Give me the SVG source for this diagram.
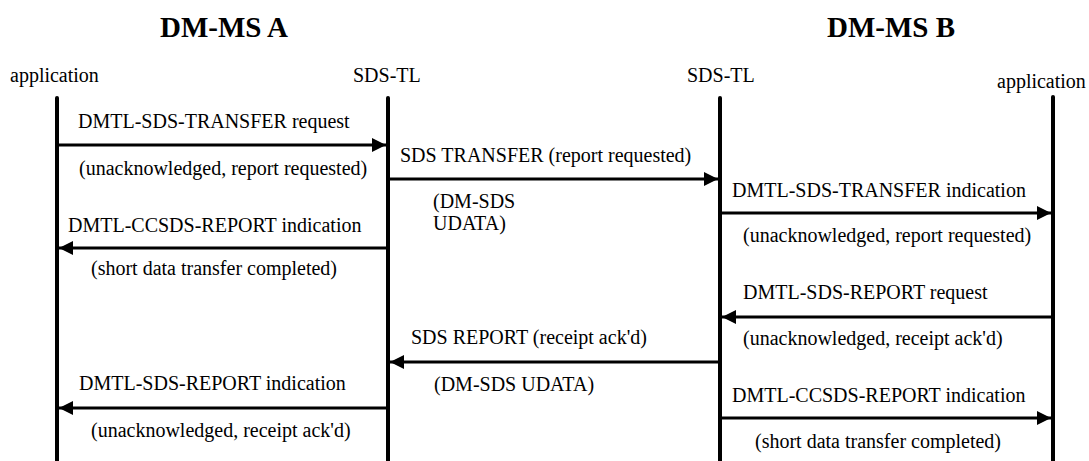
<svg xmlns="http://www.w3.org/2000/svg" width="1089" height="461" viewBox="0 0 1089 461">
<style>
text{font-family:"Liberation Serif","Times New Roman",serif;font-size:20px;fill:#000}
.title{font-size:29px;font-weight:bold}
.life{stroke:#000;stroke-width:4;stroke-linecap:round}
.msg{stroke:#000;stroke-width:3;fill:none}
</style>
<defs>
<marker id="ah" markerUnits="userSpaceOnUse" markerWidth="14" markerHeight="14" refX="14" refY="7" orient="auto">
<path d="M0,0 L14,7 L0,14 z" fill="#000"/>
</marker>
</defs>
<rect width="1089" height="461" fill="#fff"/>
<text class="title" x="160" y="37">DM-MS A</text>
<text class="title" x="827" y="37">DM-MS B</text>
<g id="appA"><text x="10" y="82">application</text><line class="life" x1="57" y1="98" x2="57" y2="465"/></g>
<g id="sdstlA"><text x="353" y="82">SDS-TL</text><line class="life" x1="388" y1="98" x2="388" y2="465"/></g>
<g id="sdstlB"><text x="687" y="82">SDS-TL</text><line class="life" x1="720" y1="98" x2="720" y2="465"/></g>
<g id="appB"><text x="997" y="88">application</text><line class="life" x1="1053" y1="97" x2="1053" y2="465"/></g>
<g id="connectors">
<line class="msg" x1="59" y1="145" x2="386" y2="145" marker-end="url(#ah)"/>
<line class="msg" x1="390" y1="179" x2="718" y2="179" marker-end="url(#ah)"/>
<line class="msg" x1="722" y1="213" x2="1051" y2="213" marker-end="url(#ah)"/>
<line class="msg" x1="386" y1="248" x2="59" y2="248" marker-end="url(#ah)"/>
<line class="msg" x1="1051" y1="317" x2="722" y2="317" marker-end="url(#ah)"/>
<line class="msg" x1="718" y1="362" x2="390" y2="362" marker-end="url(#ah)"/>
<line class="msg" x1="386" y1="408" x2="59" y2="408" marker-end="url(#ah)"/>
<line class="msg" x1="722" y1="418" x2="1051" y2="418" marker-end="url(#ah)"/>
</g>
<g id="labels">
<text x="78" y="128">DMTL-SDS-TRANSFER request</text>
<text x="79" y="175">(unacknowledged, report requested)</text>
<text x="400" y="162">SDS TRANSFER (report requested)</text>
<text x="433" y="208">(DM-SDS</text>
<text x="433" y="230">UDATA)</text>
<text x="732" y="197">DMTL-SDS-TRANSFER indication</text>
<text x="743" y="242">(unacknowledged, report requested)</text>
<text x="68" y="232">DMTL-CCSDS-REPORT indication</text>
<text x="91" y="275">(short data transfer completed)</text>
<text x="743" y="299">DMTL-SDS-REPORT request</text>
<text x="743" y="345">(unacknowledged, receipt ack'd)</text>
<text x="411" y="344">SDS REPORT (receipt ack'd)</text>
<text x="434" y="391">(DM-SDS UDATA)</text>
<text x="79" y="390">DMTL-SDS-REPORT indication</text>
<text x="91" y="437">(unacknowledged, receipt ack'd)</text>
<text x="732" y="402">DMTL-CCSDS-REPORT indication</text>
<text x="755" y="448">(short data transfer completed)</text>
</g>
</svg>
